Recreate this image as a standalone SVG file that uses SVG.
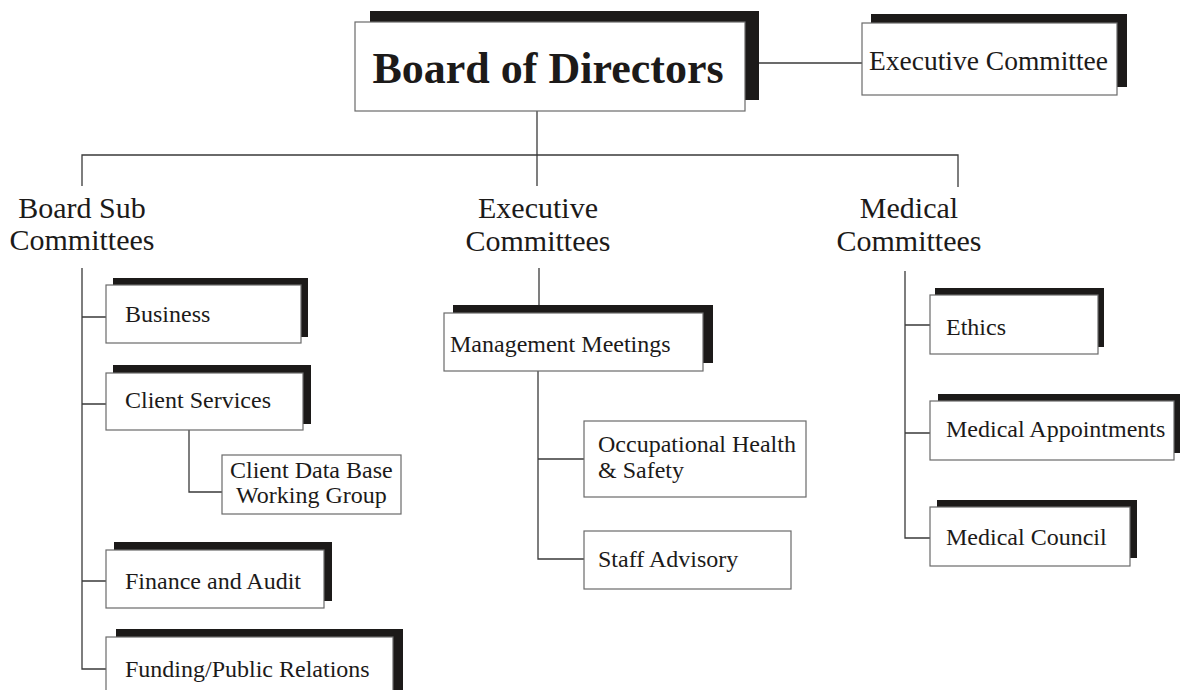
<svg xmlns="http://www.w3.org/2000/svg" width="1180" height="690" viewBox="0 0 1180 690">
<style>
.bg{fill:#ffffff}
.sh{fill:#1c1a19}
.bx{fill:#ffffff;stroke:#6a6a6a;stroke-width:1.2}
.ln{fill:none;stroke:#3a3a3a;stroke-width:1.3}
.t{font-family:"Liberation Serif","Times New Roman",serif;fill:#1c1a19}
.item{font-size:24px}
.hdr{font-size:30px;text-anchor:middle}
.title{font-size:44px;font-weight:bold;text-anchor:middle}
</style>
<rect class="bg" x="0" y="0" width="1180" height="690"/>
<g id="connectors">
<path class="ln" d="M745 63H862"/>
<path class="ln" d="M537 111V186"/>
<path class="ln" d="M82 186V155H958V187"/>
<path class="ln" d="M82 268V669H106M82 317H106M82 404H106M82 581H106"/>
<path class="ln" d="M189 430V492H222"/>
<path class="ln" d="M539 268V305"/>
<path class="ln" d="M538 371V559H584M538 459H584"/>
<path class="ln" d="M905 271V538H930M905 325H930M905 433H930"/>
</g>
<g id="board">
<rect class="sh" x="370" y="11" width="389" height="89"/>
<rect class="bx" x="355" y="22" width="390" height="89"/>
<text class="t title" x="548" y="83">Board of Directors</text>
</g>
<g id="exec-committee">
<rect class="sh" x="871" y="14" width="256" height="73"/>
<rect class="bx" x="862" y="23" width="255" height="72"/>
<text class="t" x="869" y="70" font-size="27.5">Executive Committee</text>
</g>
<g id="board-sub">
<text class="t hdr" x="82" y="218">Board Sub</text>
<text class="t hdr" x="82" y="250">Committees</text>
</g>
<g id="exec-committees">
<text class="t hdr" x="538" y="218">Executive</text>
<text class="t hdr" x="538" y="251">Committees</text>
</g>
<g id="medical-committees">
<text class="t hdr" x="909" y="218">Medical</text>
<text class="t hdr" x="909" y="251">Committees</text>
</g>
<g id="business">
<rect class="sh" x="113" y="278" width="195" height="59"/>
<rect class="bx" x="106" y="285" width="195" height="58"/>
<text class="t item" x="125" y="322">Business</text>
</g>
<g id="client-services">
<rect class="sh" x="113" y="365" width="198" height="59"/>
<rect class="bx" x="106" y="373" width="197" height="57"/>
<text class="t item" x="125" y="408">Client Services</text>
</g>
<g id="client-data-base">
<rect class="bx" x="222" y="455" width="179" height="59"/>
<text class="t item" x="230" y="478">Client Data Base</text>
<text class="t item" x="236" y="503">Working Group</text>
</g>
<g id="finance">
<rect class="sh" x="114" y="542" width="218" height="59"/>
<rect class="bx" x="106" y="550" width="218" height="58"/>
<text class="t item" x="125" y="589">Finance and Audit</text>
</g>
<g id="funding">
<rect class="sh" x="116" y="629" width="287" height="70"/>
<rect class="bx" x="106" y="637" width="287" height="70"/>
<text class="t item" x="125" y="677">Funding/Public Relations</text>
</g>
<g id="management">
<rect class="sh" x="453" y="305" width="260" height="58"/>
<rect class="bx" x="444" y="313" width="259" height="58"/>
<text class="t item" x="450" y="352">Management Meetings</text>
</g>
<g id="ohs">
<rect class="bx" x="584" y="421" width="222" height="76"/>
<text class="t item" x="598" y="452">Occupational Health</text>
<text class="t item" x="598" y="478">&amp; Safety</text>
</g>
<g id="staff">
<rect class="bx" x="584" y="531" width="207" height="58"/>
<text class="t item" x="598" y="567">Staff Advisory</text>
</g>
<g id="ethics">
<rect class="sh" x="935" y="288" width="169" height="59"/>
<rect class="bx" x="930" y="295" width="168" height="59"/>
<text class="t item" x="946" y="335">Ethics</text>
</g>
<g id="med-appointments">
<rect class="sh" x="938" y="394" width="242" height="59"/>
<rect class="bx" x="930" y="401" width="244" height="59"/>
<text class="t item" x="946" y="437">Medical Appointments</text>
</g>
<g id="med-council">
<rect class="sh" x="937" y="500" width="200" height="58"/>
<rect class="bx" x="930" y="507" width="200" height="59"/>
<text class="t item" x="946" y="545">Medical Council</text>
</g>
</svg>
